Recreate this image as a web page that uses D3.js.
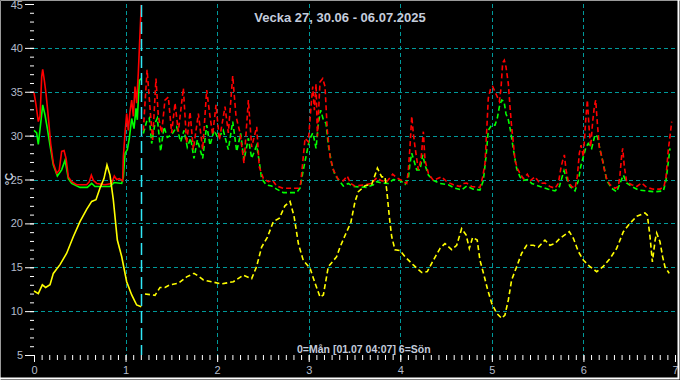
<!DOCTYPE html>
<html><head><meta charset="utf-8">
<script src="https://cdn.jsdelivr.net/npm/d3@7"></script>
<style>
html,body{margin:0;padding:0;background:#000;}
svg{display:block;}
</style></head>
<body><svg id="chart" width="680" height="380"></svg>
<script>
// ---- data ----
const title = "Vecka 27, 30.06 - 06.07.2025";
const cursorLabel = "0=Mån [01.07 04:07] 6=Sön";
const cursorDay = 1 + (4 + 7/60) / 24;
const xTicks = [0,1,2,3,4,5,6,7];
const yTicks = [5,10,15,20,25,30,35,40,45];
const yUnit = "°C";

// outdoor (yellow): [day, °C]
const outdoor = [[0,12.3],[0.047,12.0],[0.091,13.0],[0.127,12.7],[0.175,13.0],[0.211,14.3],[0.284,15.3],[0.357,16.6],[0.43,18.5],[0.502,20.2],[0.575,21.6],[0.63,22.5],[0.677,22.7],[0.72,24.0],[0.764,25.1],[0.797,26.65],[0.83,25.5],[0.866,22.7],[0.91,18.1],[0.958,16.2],[1.012,13.35],[1.067,11.84],[1.121,10.7],[1.1715,10.5],
[1.212,11.95],[1.321,11.8],[1.376,12.7],[1.43,12.7],[1.485,13.0],[1.576,13.17],[1.667,13.9],[1.747,14.3],[1.795,14.0],[1.85,13.55],[1.94,13.35],[2.05,13.1],[2.177,13.35],[2.286,14.1],[2.377,13.7],[2.43,15.06],[2.486,17.3],[2.548,18.4],[2.614,20.2],[2.68,20.6],[2.74,22.0],[2.796,22.5],[2.84,20.8],[2.887,17.7],[2.94,15.8],[3.014,14.9],[3.069,13.2],[3.124,11.6],[3.16,11.84],[3.214,15.06],[3.305,16.2],[3.342,17.3],[3.40,18.7],[3.46,20.1],[3.506,22.5],[3.542,23.6],[3.615,24.3],[3.688,24.45],[3.724,25.5],[3.75,26.3],[3.797,25.3],[3.833,25.3],[3.852,23.8],[3.88,20.8],[3.906,18.5],[3.942,17.0],[3.997,16.9],[4.052,16.2],[4.142,15.26],[4.234,14.4],[4.295,14.5],[4.361,15.8],[4.434,17.15],[4.488,17.7],[4.561,17.0],[4.616,17.5],[4.67,19.4],[4.718,18.7],[4.754,17.15],[4.79,18.4],[4.84,18.1],[4.87,15.8],[4.914,14.1],[4.95,12.6],[4.998,10.9],[5.053,9.75],[5.107,9.18],[5.143,9.56],[5.18,11.27],[5.216,13.55],[5.271,15.06],[5.326,16.6],[5.38,17.5],[5.453,17.5],[5.508,17.3],[5.58,18.1],[5.635,17.5],[5.69,17.7],[5.744,18.3],[5.846,19.05],[5.89,18.3],[5.944,16.8],[6.0,15.8],[6.072,15.06],[6.145,14.5],[6.217,15.1],[6.29,16.0],[6.363,17.15],[6.436,19.05],[6.508,20.0],[6.581,20.8],[6.672,21.2],[6.698,20.95],[6.727,18.5],[6.753,15.6],[6.783,18.1],[6.8,18.9],[6.836,17.9],[6.865,16.2],[6.89,15.06],[6.937,14.3]];

// red series: [day, °C]
const redSeries = [[0,34.9],[0.022,33.5],[0.047,31.6],[0.066,32.2],[0.084,36.7],[0.095,37.55],[0.113,36.3],[0.131,34.8],[0.156,32.2],[0.182,29.1],[0.211,26.85],[0.248,25.7],[0.276,26.1],[0.302,28.2],[0.328,28.3],[0.35,27.4],[0.375,25.3],[0.411,24.75],[0.466,24.4],[0.575,24.4],[0.604,24.75],[0.626,25.5],[0.648,24.9],[0.684,24.55],[0.775,24.4],[0.848,24.55],[0.877,25.4],[0.903,25.0],[0.932,25.1],[0.968,24.85],[0.976,27.6],[0.994,30.3],[1.012,32.5],[1.03,30.6],[1.048,32.7],[1.067,34.05],[1.085,32.2],[1.103,35.6],[1.121,33.7],[1.139,37.1],[1.15,39.8],[1.1715,44.9],
[1.194,30.6],[1.235,37.5],[1.274,32.2],[1.296,29.5],[1.332,36.5],[1.358,32.2],[1.394,30.3],[1.43,34.05],[1.467,34.4],[1.503,30.3],[1.54,33.7],[1.576,30.45],[1.631,35.4],[1.667,29.1],[1.704,32.7],[1.74,28.4],[1.795,32.5],[1.842,28.4],[1.886,35.2],[1.922,32.2],[1.951,30.1],[1.988,33.5],[2.024,29.5],[2.086,33.3],[2.122,30.3],[2.17,36.8],[2.206,32.2],[2.25,30.3],[2.293,26.85],[2.341,34.05],[2.377,28.7],[2.432,31.0],[2.46,26.45],[2.505,25.1],[2.559,24.75],[2.606,24.9],[2.65,24.25],[2.723,24.0],[2.886,24.0],[2.912,24.55],[2.934,26.85],[2.96,29.7],[2.996,29.3],[3.022,32.9],[3.044,35.6],[3.062,32.9],[3.08,35.9],[3.095,29.9],[3.123,36.1],[3.153,36.5],[3.178,35.6],[3.203,30.6],[3.233,27.6],[3.269,26.1],[3.323,25.0],[3.378,24.85],[3.42,25.4],[3.459,24.55],[3.506,24.25],[3.615,24.4],[3.688,24.55],[3.742,25.2],[3.797,24.85],[3.852,24.75],[3.917,25.6],[3.961,25.2],[4.016,24.9],[4.07,24.55],[4.088,26.1],[4.106,28.7],[4.125,32.2],[4.142,30.3],[4.161,28.7],[4.197,26.1],[4.226,27.2],[4.252,30.45],[4.27,27.2],[4.307,25.7],[4.361,24.9],[4.452,25.3],[4.507,24.75],[4.58,24.4],[4.652,24.2],[4.689,24.55],[4.725,24.6],[4.78,24.2],[4.87,24.1],[4.9,25.3],[4.925,26.85],[4.944,30.6],[4.961,34.25],[4.987,35.4],[5.009,35.6],[5.034,35.0],[5.06,34.4],[5.082,33.9],[5.1,35.4],[5.118,38.3],[5.136,38.6],[5.154,37.85],[5.18,35.9],[5.198,33.3],[5.216,31.0],[5.235,29.1],[5.253,27.2],[5.279,26.25],[5.307,25.7],[5.344,25.1],[5.387,25.6],[5.424,24.9],[5.471,25.3],[5.526,24.55],[5.58,24.6],[5.635,24.2],[5.69,24.0],[5.726,24.55],[5.753,26.25],[5.774,27.2],[5.792,27.8],[5.81,26.1],[5.835,24.75],[5.872,24.2],[5.908,24.0],[5.933,25.3],[5.955,27.97],[5.974,28.9],[5.999,27.6],[6.025,31.8],[6.043,34.05],[6.061,31.0],[6.079,28.7],[6.101,31.6],[6.119,33.3],[6.134,34.05],[6.152,31.4],[6.174,28.7],[6.2,27.6],[6.225,26.25],[6.254,25.1],[6.29,24.4],[6.345,24.0],[6.381,24.2],[6.399,25.5],[6.418,27.8],[6.429,28.55],[6.447,26.45],[6.472,24.75],[6.527,24.4],[6.582,24.2],[6.636,24.6],[6.69,24.1],[6.763,23.9],[6.836,23.9],[6.88,24.2],[6.902,25.3],[6.927,28.4],[6.945,29.9],[6.964,31.6]];

// green series: [day, °C]
const greenSeries = [[0,30.6],[0.029,30.3],[0.047,29.0],[0.073,31.4],[0.095,33.5],[0.12,32.35],[0.146,30.8],[0.175,28.9],[0.211,26.65],[0.255,25.4],[0.302,26.1],[0.339,27.2],[0.375,25.1],[0.411,24.55],[0.502,24.1],[0.582,24.1],[0.63,24.55],[0.666,24.2],[0.83,24.2],[0.874,24.65],[0.958,24.55],[0.976,25.3],[0.994,27.97],[1.019,28.4],[1.041,29.7],[1.067,31.95],[1.092,30.8],[1.114,33.1],[1.128,31.8],[1.15,36.3],[1.1715,36.5],
[1.194,30.25],[1.23,31.6],[1.259,32.0],[1.285,29.1],[1.321,31.4],[1.347,32.0],[1.383,28.2],[1.42,31.0],[1.456,29.8],[1.503,30.1],[1.558,31.0],[1.602,29.3],[1.638,30.6],[1.674,28.7],[1.711,29.7],[1.747,27.4],[1.784,29.5],[1.842,27.4],[1.886,31.2],[1.922,28.9],[1.966,30.6],[2.013,29.7],[2.067,30.6],[2.122,28.4],[2.17,31.6],[2.214,28.2],[2.257,30.25],[2.293,27.2],[2.341,29.7],[2.377,27.4],[2.432,28.9],[2.46,27.0],[2.486,25.1],[2.534,24.4],[2.596,24.25],[2.65,23.9],[2.723,23.5],[2.868,23.5],[2.905,24.0],[2.934,25.7],[2.97,27.6],[3.007,29.5],[3.044,30.3],[3.058,29.7],[3.08,28.55],[3.105,31.4],[3.131,32.9],[3.16,31.8],[3.189,31.4],[3.214,28.9],[3.25,26.85],[3.287,25.5],[3.342,24.75],[3.378,24.25],[3.432,24.55],[3.487,24.2],[3.633,24.1],[3.706,24.4],[3.742,24.75],[3.797,24.6],[3.87,24.55],[3.924,25.0],[3.997,24.9],[4.052,24.45],[4.088,25.1],[4.106,26.85],[4.125,28.0],[4.142,27.4],[4.179,26.1],[4.215,26.1],[4.245,27.8],[4.27,26.65],[4.307,25.5],[4.361,24.9],[4.434,24.55],[4.525,24.4],[4.598,24.0],[4.67,23.8],[4.725,24.25],[4.797,23.9],[4.87,23.8],[4.907,24.9],[4.936,27.6],[4.961,30.6],[4.998,31.2],[5.034,31.2],[5.06,32.0],[5.082,33.3],[5.107,34.05],[5.133,33.9],[5.154,32.5],[5.18,31.8],[5.206,30.45],[5.235,28.4],[5.271,26.25],[5.307,25.3],[5.344,24.9],[5.398,25.0],[5.435,24.55],[5.526,24.2],[5.617,23.9],[5.69,23.7],[5.738,24.2],[5.762,25.1],[5.788,26.0],[5.817,25.1],[5.853,24.2],[5.908,23.7],[5.945,24.9],[5.97,26.45],[5.999,27.6],[6.028,28.7],[6.053,29.1],[6.09,28.55],[6.126,30.1],[6.152,29.9],[6.181,28.4],[6.217,26.85],[6.254,24.9],[6.308,24.0],[6.363,23.6],[6.399,24.55],[6.436,25.5],[6.472,24.6],[6.527,24.2],[6.6,23.8],[6.69,23.7],[6.782,23.6],[6.873,23.7],[6.902,24.9],[6.927,27.0],[6.945,28.55]];

// ---- drawing ----
const W = 680, H = 380;
const svg = d3.select("#chart");
const font = "'Liberation Sans', Arial, sans-serif";
const labelColor = "#b4bccc";
const gridColor = "#00999a";

svg.append("rect").attr("width", W).attr("height", H).attr("fill", "#000");

const x = d3.scaleLinear().domain([0, 7]).range([34, 675]);
const y = d3.scaleLinear().domain([5, 45]).range([355, 4]);

// grid
const grid = svg.append("g");
grid.selectAll("line.h").data(d3.range(10, 41, 5)).join("line")
  .attr("x1", x(0)).attr("x2", x(7))
  .attr("y1", d => Math.round(y(d)) + 0.5).attr("y2", d => Math.round(y(d)) + 0.5)
  .attr("stroke", gridColor).attr("stroke-width", 1).attr("stroke-dasharray", "4,3");
grid.selectAll("line.v").data(d3.range(1, 7)).join("line")
  .attr("x1", d => Math.round(x(d)) + 0.5).attr("x2", d => Math.round(x(d)) + 0.5)
  .attr("y1", y(45)).attr("y2", y(5))
  .attr("stroke", gridColor).attr("stroke-width", 1).attr("stroke-dasharray", "4,3");

// axes
function styleAxis(g) {
  g.select(".domain").remove();
  g.selectAll(".tick line").attr("stroke", "#fff").attr("stroke-width", 1);
  g.selectAll("text").attr("fill", labelColor).attr("font-family", font).attr("font-size", 11);
}
svg.append("g").attr("transform", "translate(34,0)")
  .call(d3.axisLeft(y).tickValues(d3.range(5, 46, 1)).tickSize(4).tickFormat(""))
  .call(styleAxis);
const yAx = svg.append("g").attr("transform", "translate(34,0)")
  .call(d3.axisLeft(y).tickValues(yTicks).tickSize(9).tickPadding(2).tickFormat(d3.format("d")))
  .call(styleAxis);
// keep the top label inside the picture
yAx.selectAll(".tick text").filter(d => d === 45).attr("dy", "0.45em");
svg.append("g").attr("transform", "translate(0,355)")
  .call(d3.axisBottom(x).tickValues(d3.range(0, 7.001, 1/12)).tickSize(5).tickFormat(""))
  .call(styleAxis);
svg.append("g").attr("transform", "translate(0,355)")
  .call(d3.axisBottom(x).tickValues(xTicks).tickSize(7).tickPadding(4).tickFormat(d3.format("d")))
  .call(styleAxis);

// series
const line = d3.line().x(d => x(d[0])).y(d => y(d[1]));
const plot = svg.append("g");
function drawSeries(data, color) {
  const solid = data.filter(d => d[0] <= cursorDay + 1e-6);
  const dashed = data.filter(d => d[0] >= cursorDay - 1e-6);
  plot.append("path").datum(solid).attr("d", line)
    .attr("fill", "none").attr("stroke", color).attr("stroke-width", 1.6);
  plot.append("path").datum(dashed).attr("d", line)
    .attr("fill", "none").attr("stroke", color).attr("stroke-width", 1.6)
    .attr("stroke-dasharray", "5,3");
}
drawSeries(greenSeries, "#00ff00");
drawSeries(redSeries, "#ff0000");
drawSeries(outdoor, "#ffff00");

// cursor line
svg.append("line")
  .attr("x1", Math.round(x(cursorDay)) + 0.5).attr("x2", Math.round(x(cursorDay)) + 0.5)
  .attr("y1", y(45) + 1).attr("y2", y(5))
  .attr("stroke", "#30e8f8").attr("stroke-width", 1.5).attr("stroke-dasharray", "12,5");

// texts
svg.append("text").attr("x", 340).attr("y", 22).attr("text-anchor", "middle")
  .attr("font-family", font).attr("font-weight", "bold").attr("font-size", 13)
  .attr("fill", "#c4ccdc").text(title);
svg.append("text").attr("x", 297).attr("y", 353)
  .attr("font-family", font).attr("font-weight", "bold").attr("font-size", 10.5)
  .attr("fill", "#c4ccdc").text(cursorLabel);
svg.append("text").attr("transform", "translate(13,179) rotate(-90)").attr("text-anchor", "middle")
  .attr("font-family", font).attr("font-weight", "bold").attr("font-size", 11)
  .attr("fill", "#c4ccdc").text(yUnit);

// frame
svg.append("path").attr("d", `M0.5,${H} V0.5 H${W}`).attr("fill", "none").attr("stroke", "#9a9a9a");
svg.append("path").attr("d", `M0,${H - 1.5} H${W - 1.5} V0`).attr("fill", "none").attr("stroke", "#ffffff").attr("stroke-width", 2);
</script>
</body></html>
